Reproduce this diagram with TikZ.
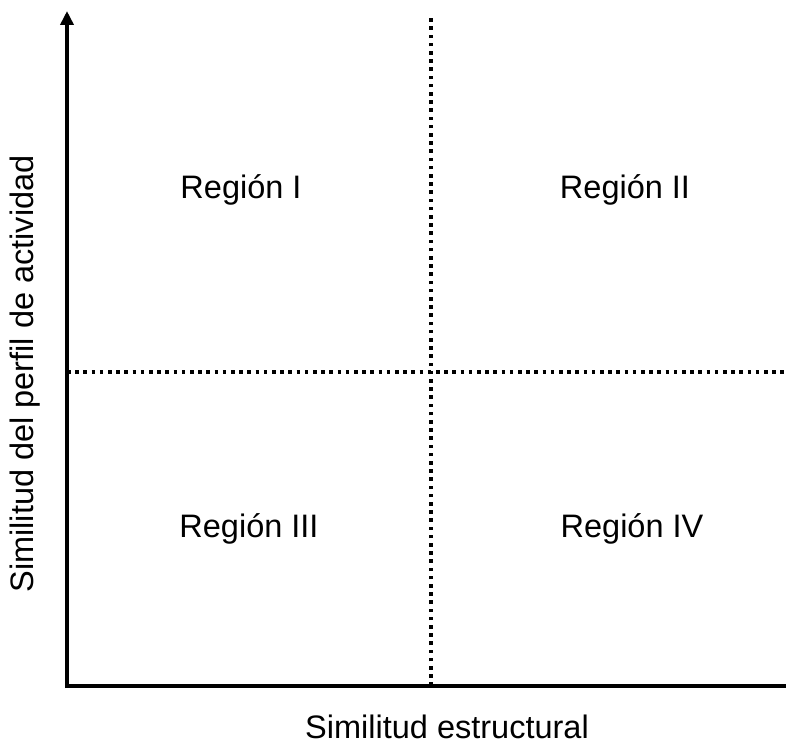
\documentclass[tikz,border=0pt]{standalone}
\usepackage{fontspec}
\setmainfont{Liberation Sans}
\usetikzlibrary{%
  arrows.meta,%
  positioning%
}

\begin{document}
\begin{tikzpicture}[
  x=1pt, y=1pt,
  font=\fontsize{32.5}{39}\selectfont, line cap=butt,
  axis/.style={line width=4pt, -{Triangle[width=13pt,length=14pt]}},
  divider/.style={line width=3.6pt, dash pattern=on 3.6pt off 4.6pt},
  region/.style={anchor=base, inner sep=0pt}
]
\useasboundingbox (0,0) rectangle (786,744);

\coordinate (o) at (67,58);
\coordinate (ytop) at (67,733);
\coordinate (xend) at (802,58);

\coordinate (vbot) at (431,58);
\coordinate (vtop) at (431,729);
\coordinate (hleft) at (67,372);
\coordinate (hright) at (786,372);

% quadrants
\node[region] (r1) at (241,545) {Región I};
\node[region] (r2) at (625,545) {Región II};
\node[region] (r3) at (249,206) {Región III};
\node[region] (r4) at (632,206) {Región IV};

% dividers
\draw[divider] (vbot) -- (vtop);
\draw[divider] (hleft) -- (hright);

% axes
\draw[axis] ([yshift=-2pt]o) -- (ytop);
\draw[axis] ([xshift=-2pt]o) -- (xend);

\node[anchor=base, inner sep=0pt] (xlabel) at (447,6) {Similitud estructural};
\node[rotate=90, anchor=base, inner sep=0pt] (ylabel) at (33,370) {Similitud del perfil de actividad};
\end{tikzpicture}
\end{document}
